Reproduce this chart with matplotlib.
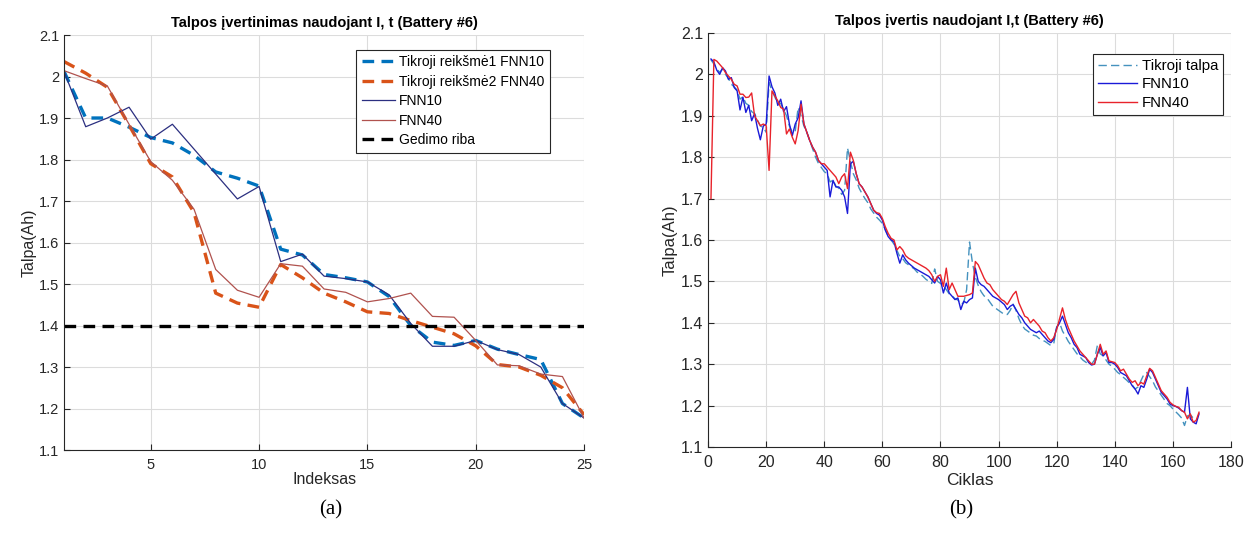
import numpy as np
import matplotlib
matplotlib.use("Agg")
import matplotlib.pyplot as plt

plt.rcParams['font.family'] = ['Liberation Sans', 'DejaVu Sans']

# ---- (a) data: index 1..25 ----
idx = np.arange(1, 26)
true1_fnn10 = [2.012, 1.900, 1.900, 1.878, 1.853, 1.840, 1.810, 1.770, 1.755, 1.736,
               1.584, 1.570, 1.523, 1.515, 1.505, 1.470, 1.400, 1.360, 1.352, 1.364,
               1.343, 1.330, 1.318, 1.212, 1.177]
true2_fnn40 = [2.036, 2.008, 1.974, 1.883, 1.790, 1.758, 1.672, 1.478, 1.454, 1.444,
               1.547, 1.515, 1.478, 1.457, 1.433, 1.429, 1.412, 1.396, 1.380, 1.351,
               1.306, 1.300, 1.280, 1.250, 1.185]
fnn10_a = [2.012, 1.879, 1.900, 1.926, 1.849, 1.885, 1.825, 1.765, 1.705, 1.735,
           1.554, 1.572, 1.519, 1.513, 1.505, 1.474, 1.405, 1.350, 1.350, 1.364,
           1.342, 1.330, 1.300, 1.212, 1.177]
fnn40_a = [2.014, 1.995, 1.977, 1.885, 1.795, 1.750, 1.680, 1.535, 1.485, 1.468,
           1.549, 1.543, 1.488, 1.480, 1.457, 1.465, 1.478, 1.422, 1.420, 1.364,
           1.305, 1.303, 1.283, 1.277, 1.177]
fail_limit = 1.4

# ---- (b) data: cycles ----
true_cap = [2.035, 2.025, 2.013, 2.005, 2.013, 2.000, 1.990, 1.976, 1.970, 1.962,
            1.940, 1.946, 1.930, 1.925, 1.910, 1.905, 1.890, 1.875, 1.872, 1.860,
            1.980, 1.960, 1.945, 1.930, 1.930, 1.915, 1.900, 1.875, 1.860, 1.862,
            1.920, 1.900, 1.875, 1.860, 1.840, 1.820, 1.800, 1.785, 1.775, 1.765,
            1.760, 1.740, 1.745, 1.730, 1.725, 1.710, 1.720, 1.822, 1.790, 1.760,
            1.745, 1.725, 1.712, 1.700, 1.690, 1.675, 1.665, 1.655, 1.648, 1.640,
            1.625, 1.610, 1.600, 1.590, 1.575, 1.560, 1.555, 1.545, 1.540, 1.535,
            1.530, 1.522, 1.518, 1.512, 1.505, 1.500, 1.495, 1.530, 1.500, 1.495,
            1.490, 1.480, 1.470, 1.465, 1.458, 1.455, 1.445, 1.448, 1.480, 1.595,
            1.545, 1.510, 1.490, 1.475, 1.465, 1.460, 1.450, 1.440, 1.435, 1.430,
            1.425, 1.420, 1.420, 1.430, 1.445, 1.430, 1.410, 1.395, 1.385, 1.380,
            1.375, 1.370, 1.368, 1.362, 1.358, 1.355, 1.350, 1.345, 1.350, 1.390,
            1.400, 1.380, 1.368, 1.355, 1.345, 1.335, 1.325, 1.318, 1.310, 1.305,
            1.300, 1.300, 1.310, 1.345, 1.325, 1.320, 1.310, 1.300, 1.295, 1.288,
            1.280, 1.275, 1.268, 1.262, 1.255, 1.250, 1.240, 1.245, 1.260, 1.275,
            1.280, 1.270, 1.260, 1.245, 1.235, 1.225, 1.215, 1.205, 1.200, 1.192,
            1.185, 1.178, 1.170, 1.152, 1.175, 1.178, 1.170, 1.172]
fnn10_b = [2.037, 2.030, 2.010, 2.000, 2.016, 2.008, 1.988, 1.992, 1.968, 1.960,
           1.914, 1.945, 1.908, 1.925, 1.888, 1.905, 1.870, 1.842, 1.875, 1.880,
           1.996, 1.970, 1.955, 1.925, 1.940, 1.910, 1.922, 1.880, 1.852, 1.880,
           1.895, 1.936, 1.880, 1.860, 1.840, 1.824, 1.812, 1.792, 1.784, 1.776,
           1.768, 1.704, 1.744, 1.728, 1.728, 1.720, 1.704, 1.664, 1.784, 1.790,
           1.760, 1.736, 1.728, 1.716, 1.704, 1.688, 1.672, 1.664, 1.660, 1.648,
           1.624, 1.608, 1.600, 1.596, 1.568, 1.544, 1.564, 1.552, 1.544, 1.538,
           1.532, 1.528, 1.524, 1.520, 1.516, 1.512, 1.504, 1.496, 1.512, 1.504,
           1.472, 1.496, 1.472, 1.464, 1.456, 1.460, 1.432, 1.452, 1.448, 1.456,
           1.460, 1.532, 1.500, 1.492, 1.488, 1.480, 1.472, 1.464, 1.460, 1.456,
           1.450, 1.444, 1.432, 1.440, 1.444, 1.432, 1.420, 1.412, 1.400, 1.392,
           1.384, 1.380, 1.376, 1.380, 1.372, 1.364, 1.356, 1.352, 1.360, 1.388,
           1.400, 1.416, 1.396, 1.376, 1.364, 1.348, 1.340, 1.324, 1.320, 1.316,
           1.304, 1.298, 1.300, 1.324, 1.340, 1.320, 1.328, 1.304, 1.304, 1.300,
           1.292, 1.280, 1.276, 1.272, 1.260, 1.248, 1.240, 1.228, 1.248, 1.244,
           1.264, 1.288, 1.280, 1.264, 1.248, 1.232, 1.224, 1.216, 1.204, 1.200,
           1.198, 1.194, 1.188, 1.184, 1.244, 1.168, 1.160, 1.156, 1.180]
fnn40_b = [1.700, 2.036, 2.032, 2.024, 2.016, 2.004, 1.996, 1.988, 1.976, 1.972,
           1.952, 1.952, 1.944, 1.945, 1.955, 1.900, 1.888, 1.876, 1.880, 1.876,
           1.768, 1.960, 1.948, 1.936, 1.920, 1.916, 1.856, 1.868, 1.848, 1.832,
           1.864, 1.928, 1.880, 1.860, 1.840, 1.824, 1.812, 1.792, 1.784, 1.784,
           1.776, 1.768, 1.760, 1.752, 1.736, 1.752, 1.760, 1.724, 1.812, 1.792,
           1.760, 1.736, 1.728, 1.716, 1.704, 1.688, 1.672, 1.666, 1.664, 1.652,
           1.632, 1.616, 1.604, 1.600, 1.576, 1.584, 1.576, 1.562, 1.556, 1.552,
           1.548, 1.544, 1.540, 1.536, 1.532, 1.526, 1.516, 1.500, 1.512, 1.516,
           1.488, 1.532, 1.480, 1.496, 1.480, 1.464, 1.464, 1.464, 1.466, 1.468,
           1.472, 1.548, 1.540, 1.524, 1.508, 1.496, 1.492, 1.480, 1.472, 1.464,
           1.456, 1.452, 1.444, 1.456, 1.468, 1.476, 1.448, 1.432, 1.416, 1.412,
           1.400, 1.408, 1.400, 1.392, 1.380, 1.376, 1.364, 1.356, 1.364, 1.384,
           1.410, 1.436, 1.408, 1.388, 1.372, 1.356, 1.344, 1.332, 1.324, 1.316,
           1.308, 1.300, 1.300, 1.324, 1.348, 1.324, 1.332, 1.308, 1.306, 1.304,
           1.296, 1.284, 1.288, 1.276, 1.264, 1.256, 1.260, 1.248, 1.256, 1.252,
           1.272, 1.290, 1.284, 1.268, 1.252, 1.236, 1.228, 1.220, 1.208, 1.202,
           1.198, 1.196, 1.188, 1.184, 1.168, 1.180, 1.160, 1.164, 1.184]
cyc_true = np.arange(1, len(true_cap) + 1)
cyc_pred = np.arange(1, len(fnn10_b) + 1)

yticks = np.round(np.arange(1.1, 2.11, 0.1), 1)


def style_axes(ax, labelsize):
    for s in ['top', 'right']:
        ax.spines[s].set_visible(False)
    for s in ['left', 'bottom']:
        ax.spines[s].set_color('#262626')
        ax.spines[s].set_linewidth(0.8)
    ax.grid(True, color='#dcdcdc', linewidth=0.8)
    ax.set_axisbelow(True)
    ax.tick_params(direction='in', length=4, labelsize=labelsize, colors='#262626',
                   width=0.8)
    ax.tick_params(axis='x', pad=6)
    ax.set_yticks(yticks)
    ax.set_yticklabels([f"{v:g}" for v in yticks])
    ax.set_ylim(1.1, 2.1)


fig = plt.figure(figsize=(12.51, 5.47), dpi=100)

# (a)
ax1 = fig.add_axes([0.0512, 0.1773, 0.4157, 0.7587])
ax1.plot(idx, true1_fnn10, color='#0072BD', lw=2.4, dashes=(3.5, 2.2),
         label='Tikroji reikšmė1 FNN10')
ax1.plot(idx, true2_fnn40, color='#D95319', lw=2.4, dashes=(3.5, 2.2),
         label='Tikroji reikšmė2 FNN40')
ax1.plot(idx, fnn10_a, color='#2B2F80', lw=0.9, label='FNN10')
ax1.plot(idx, fnn40_a, color='#B0524E', lw=0.9, label='FNN40')
ax1.axhline(fail_limit, color='black', lw=2.4, dashes=(3.5, 2.2), label='Gedimo riba')
style_axes(ax1, 10.5)
ax1.set_xlim(1, 25)
ax1.set_xticks([5, 10, 15, 20, 25])
ax1.set_title('Talpos įvertinimas naudojant I, t (Battery #6)', fontsize=10.5,
              fontweight='bold', pad=6)
ax1.set_xlabel('Indeksas', fontsize=11.5, color='#262626', labelpad=0)
ax1.set_ylabel('Talpa(Ah)', fontsize=11.5, color='#262626', labelpad=2)
leg1 = ax1.legend(loc='upper right', bbox_to_anchor=(0.935, 0.965), fontsize=10,
                  fancybox=False, framealpha=1, edgecolor='#262626',
                  handlelength=2.4, handletextpad=0.3, borderpad=0.4,
                  labelspacing=0.4, borderaxespad=0)
leg1.get_frame().set_linewidth(0.8)

# (b)
ax2 = fig.add_axes([0.566, 0.1828, 0.418, 0.757])
ax2.plot(cyc_true, true_cap, color='#4592BE', lw=1.0, dashes=(6, 3),
         label='Tikroji talpa')
ax2.plot(cyc_pred, fnn10_b, color='#1A1AD8', lw=1.0, label='FNN10')
ax2.plot(cyc_pred, fnn40_b, color='#E8232B', lw=1.0, label='FNN40')
style_axes(ax2, 11.5)
ax2.set_xlim(0, 180)
ax2.set_xticks(np.arange(0, 181, 20))
ax2.set_title('Talpos įvertis naudojant I,t (Battery #6)', fontsize=10.5,
              fontweight='bold', pad=6)
ax2.set_xlabel('Ciklas', fontsize=12.5, color='#262626', labelpad=2)
ax2.set_ylabel('Talpa(Ah)', fontsize=12, color='#262626', labelpad=2)
leg2 = ax2.legend(loc='upper right', bbox_to_anchor=(0.985, 0.95), fontsize=10.8,
                  fancybox=False, framealpha=1, edgecolor='#262626',
                  handlelength=2.6, handletextpad=0.3, borderpad=0.35,
                  labelspacing=0.3, borderaxespad=0)
leg2.get_frame().set_linewidth(0.8)

fig.text(0.264, 0.06, '(a)', fontsize=15, family='Liberation Serif', ha='center')
fig.text(0.768, 0.06, '(b)', fontsize=15, family='Liberation Serif', ha='center')

fig.savefig('out.png', dpi=100)
